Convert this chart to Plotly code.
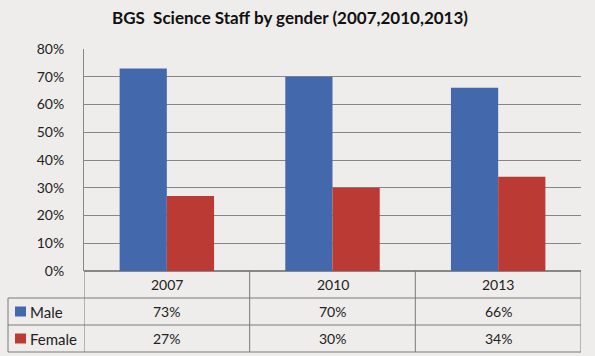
import plotly.graph_objects as go

years = ["2007", "2010", "2013"]
male = [0.73, 0.70, 0.66]
female = [0.27, 0.30, 0.34]
series_names = ["Male", "Female"]
colors = ["#4468AC", "#BB3B34"]
title = "BGS  Science Staff by gender (2007,2010,2013)"

W, H = 595, 356
L, R, T, B = 84, 14, 49, 85
pw = W - L - R
ph = H - T - B
FONT = "Lato"
TXT = "#222222"
LINE = "#7a7a7a"

def px2x(px):
    return (px - L) / pw

def py2y(py):
    return (H - B - py) / ph

fig = go.Figure()
for name, vals, col in zip(series_names, [male, female], colors):
    fig.add_trace(go.Bar(x=list(range(len(years))), y=vals, name=name,
                         marker=dict(color=col, line=dict(width=0)),
                         hoverinfo="y+name"))

shapes = []
annotations = []
row_y = [py2y(298), py2y(325), py2y(352)]
# horizontal table lines
for yv in row_y:
    shapes.append(dict(type="line", xref="paper", yref="paper", x0=px2x(8), x1=1,
                       y0=yv, y1=yv, line=dict(color=LINE, width=1)))
# category boundary lines
for b in [i - 0.5 for i in range(len(years) + 1)]:
    shapes.append(dict(type="line", xref="x", yref="paper", x0=b, x1=b,
                       y0=0, y1=row_y[-1], line=dict(color=LINE, width=1)))
# left column outer edge
shapes.append(dict(type="line", xref="paper", yref="paper", x0=px2x(8), x1=px2x(8),
                   y0=row_y[0], y1=row_y[-1], line=dict(color=LINE, width=1)))

cell_font = dict(family=FONT, size=14, color=TXT)
# header
for i, yr in enumerate(years):
    annotations.append(dict(x=i, y=(0 + row_y[0]) / 2, xref="x", yref="paper",
                            xanchor="center", yanchor="middle",
                            text=yr, showarrow=False, font=cell_font))
# rows
for r, (name, vals, col) in enumerate(zip(series_names, [male, female], colors)):
    yc = (row_y[r] + row_y[r + 1]) / 2
    for i, v in enumerate(vals):
        annotations.append(dict(x=i, y=yc, xref="x", yref="paper", text=f"{v:.0%}",
                                xanchor="center", yanchor="middle",
                                showarrow=False, font=cell_font))
    # legend key
    shapes.append(dict(type="rect", xref="paper", yref="paper",
                       x0=px2x(15), x1=px2x(26), y0=yc - 5 / ph, y1=yc + 5 / ph,
                       fillcolor=col, line=dict(width=0)))
    annotations.append(dict(x=px2x(28), y=yc, xref="paper", yref="paper", text=name,
                            xanchor="left", yanchor="middle", showarrow=False,
                            font=dict(family=FONT, size=15, color=TXT)))

fig.update_layout(
    width=W, height=H,
    margin=dict(l=L, r=R, t=T, b=B, pad=0),
    paper_bgcolor="#EEEDEB", plot_bgcolor="#EEEDEB",
    barmode="group", bargap=0.43, bargroupgap=0,
    showlegend=False,
    title=dict(text="<b>" + title + "</b>", x=290 / W, xanchor="center", y=1 - 18 / H,
               yanchor="middle", font=dict(family=FONT, size=17, color="#111111")),
    font=dict(family=FONT, color=TXT),
    shapes=shapes, annotations=annotations,
)
fig.update_xaxes(range=[-0.5, len(years) - 0.5], showticklabels=False, showgrid=False,
                 zeroline=False, showline=False, ticks="", fixedrange=True)
fig.update_yaxes(range=[0, 0.8], dtick=0.1, tickformat=".0%", showgrid=True,
                 gridcolor="#878787", gridwidth=1, zeroline=True, zerolinecolor="#878787",
                 showline=True, linecolor="#878787", linewidth=1,
                 ticks="outside", ticklen=16, tickcolor="rgba(0,0,0,0)",
                 tickfont=dict(family=FONT, size=14, color=TXT), fixedrange=True)

fig.write_html("out.html", config={"displayModeBar": False},
               post_script="document.body.style.margin='0';")
